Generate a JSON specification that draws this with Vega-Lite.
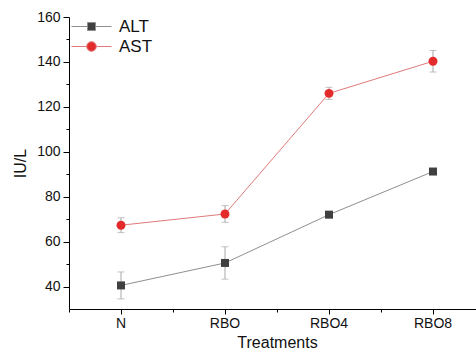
{
  "$schema": "https://vega.github.io/schema/vega-lite/v6.json",
  "width": 407,
  "height": 292,
  "autosize": {"type": "none"},
  "padding": {"left": 69, "top": 17, "right": 0, "bottom": 43},
  "config": {
    "font": "Liberation Sans",
    "view": {"stroke": null},
    "axis": {"domainColor": "#000", "tickColor": "#000", "labelColor": "#111", "titleColor": "#111", "labelFontSize": 14, "titleFontSize": 16, "titleFontWeight": "normal", "grid": false},
    "legend": {"title": null, "orient": "none", "legendX": 14, "legendY": 1, "padding": 0, "labelFontSize": 17, "labelColor": "#111", "symbolSize": 100, "labelOffset": 19, "rowPadding": 2, "symbolStrokeWidth": 1}
  },
  "data": {
    "values": [
      {"treatment": "N", "series": "ALT", "mean": 40.5, "sd": 6.0},
      {"treatment": "RBO", "series": "ALT", "mean": 50.5, "sd": 7.2},
      {"treatment": "RBO4", "series": "ALT", "mean": 72.0, "sd": 0.8},
      {"treatment": "RBO8", "series": "ALT", "mean": 91.2, "sd": 0.8},
      {"treatment": "N", "series": "AST", "mean": 67.3, "sd": 3.3},
      {"treatment": "RBO", "series": "AST", "mean": 72.3, "sd": 3.7},
      {"treatment": "RBO4", "series": "AST", "mean": 126.0, "sd": 2.7},
      {"treatment": "RBO8", "series": "AST", "mean": 140.3, "sd": 4.8}
    ]
  },
  "resolve": {"axis": {"x": "independent", "y": "independent"}},
  "layer": [
    {
      "mark": {"type": "errorbar", "ticks": {"size": 7}, "color": "#a8a8a8", "thickness": 1},
      "encoding": {
        "x": {"field": "treatment", "type": "nominal", "sort": ["N", "RBO", "RBO4", "RBO8"],
              "scale": {"type": "band", "paddingInner": 0, "paddingOuter": 0, "range": [0, 416]},
              "axis": {"title": "Treatments", "orient": "bottom", "tickSize": 5, "labelPadding": 2, "labelAngle": 0, "titlePadding": 4, "tickBand": "center"}},
        "y": {"field": "mean", "type": "quantitative", "scale": {"domain": [30, 160], "nice": false, "zero": false},
              "axis": {"title": "IU/L", "orient": "left", "values": [40, 60, 80, 100, 120, 140, 160], "tickSize": 6, "labelPadding": 3, "titlePadding": 8}},
        "yError": {"field": "sd"},
        "detail": {"field": "series"}
      }
    },
    {
      "mark": {"type": "line", "strokeWidth": 1},
      "encoding": {
        "x": {"field": "treatment", "type": "nominal", "sort": ["N", "RBO", "RBO4", "RBO8"],
              "axis": {"orient": "bottom", "tickBand": "extent", "labels": false, "title": null, "tickSize": 3, "domain": false}},
        "y": {"field": "mean", "type": "quantitative",
              "axis": {"orient": "left", "values": [50, 70, 90, 110, 130, 150], "labels": false, "title": null, "tickSize": 3, "domain": false}},
        "stroke": {"field": "series", "type": "nominal", "scale": {"domain": ["ALT", "AST"], "range": ["#8f8f8f", "#e07a7a"]}}
      }
    },
    {
      "transform": [{"filter": "datum.series === 'ALT'"}],
      "mark": {"type": "point", "filled": true, "shape": "square", "size": 64, "opacity": 1, "strokeWidth": 0},
      "encoding": {
        "x": {"field": "treatment", "type": "nominal", "sort": ["N", "RBO", "RBO4", "RBO8"], "axis": null},
        "y": {"field": "mean", "type": "quantitative", "axis": null},
        "fill": {"field": "series", "type": "nominal", "scale": {"domain": ["ALT", "AST"], "range": ["#404040", "#e32b2b"]}}
      }
    },
    {
      "transform": [{"filter": "datum.series === 'AST'"}],
      "mark": {"type": "point", "filled": true, "shape": "circle", "size": 80, "opacity": 1, "strokeWidth": 0},
      "encoding": {
        "x": {"field": "treatment", "type": "nominal", "sort": ["N", "RBO", "RBO4", "RBO8"], "axis": null},
        "y": {"field": "mean", "type": "quantitative", "axis": null},
        "fill": {"field": "series", "type": "nominal", "scale": {"domain": ["ALT", "AST"], "range": ["#404040", "#e32b2b"]}}
      }
    },
    {
      "transform": [{"filter": "false"}],
      "mark": {"type": "point", "filled": true, "size": 100, "opacity": 1, "strokeWidth": 1},
      "encoding": {
        "x": {"field": "treatment", "type": "nominal", "sort": ["N", "RBO", "RBO4", "RBO8"], "axis": null},
        "y": {"field": "mean", "type": "quantitative", "axis": null},
        "fill": {"field": "series", "type": "nominal", "scale": {"domain": ["ALT", "AST"], "range": ["#404040", "#e32b2b"]}},
        "stroke": {"field": "series", "type": "nominal", "scale": {"domain": ["ALT", "AST"], "range": ["#8f8f8f", "#e07a7a"]}},
        "shape": {"field": "series", "type": "nominal", "scale": {"domain": ["ALT", "AST"], "range": ["M-4,0H-0.8M0.8,0H4M-0.8,-0.8H0.8V0.8H-0.8Z", "M-4,0H-0.95M0.95,0H4M0.95,0A0.95,0.95 0 1,1 -0.95,0A0.95,0.95 0 1,1 0.95,0Z"]}}
      }
    }
  ]
}
